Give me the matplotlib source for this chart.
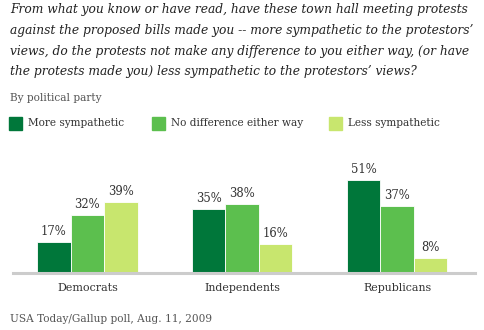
import matplotlib.pyplot as plt
import numpy as np

parties = ['Democrats', 'Independents', 'Republicans']
series_names = ['More sympathetic', 'No difference either way', 'Less sympathetic']
more_sympathetic = [17, 35, 51]
no_difference = [32, 38, 37]
less_sympathetic = [39, 16, 8]
colors = ['#00773a', '#5cbf4e', '#c8e66e']

question_lines = [
    "From what you know or have read, have these town hall meeting protests",
    "against the proposed bills made you -- more sympathetic to the protestors\u2019",
    "views, do the protests not make any difference to you either way, (or have",
    "the protests made you) less sympathetic to the protestors\u2019 views?",
]
subtitle = 'By political party'
source = 'USA Today/Gallup poll, Aug. 11, 2009'

W, H = 484, 330
fig = plt.figure(figsize=(W / 100, H / 100), dpi=100)
serif = 'DejaVu Serif'
text_color = '#333333'

# question text, one line at a time
for k, line in enumerate(question_lines):
    fig.text(10 / W, 1 - (10 + 20.6 * k) / H, line, ha='left', va='center',
             fontsize=8.85, style='italic', family=serif, color='#222222')
fig.text(10 / W, 1 - 98 / H, subtitle, ha='left', va='center', fontsize=7.6,
         family=serif, color='#555555')

# legend drawn by hand: squares + labels
legend_x = [9, 152, 329]
for xl, name, c in zip(legend_x, series_names, colors):
    fig.patches.append(plt.Rectangle((xl / W, 1 - 130 / H), 13 / W, 13 / H,
                                     transform=fig.transFigure, color=c))
    fig.text((xl + 19) / W, 1 - 123 / H, name, ha='left', va='center',
             fontsize=7.6, family=serif, color=text_color)

ax = fig.add_axes([13 / W, 57 / H, 462 / W, 109.2 / H])
x = np.arange(len(parties))
w = 0.216
for i, (vals, c) in enumerate(zip([more_sympathetic, no_difference, less_sympathetic], colors)):
    pos = x + (i - 1) * w
    ax.bar(pos, vals, width=w, color=c, edgecolor='white', linewidth=0.6)
    for px, v in zip(pos, vals):
        ax.text(px, v + 2.2, f'{v}%', ha='center', va='bottom', fontsize=8.4,
                family=serif, color=text_color)

ax.set_xlim(-0.48, 2.503)
ax.set_ylim(0, 60)
ax.axhline(0, color='#cccccc', linewidth=2.2, clip_on=False)
for s in ax.spines.values():
    s.set_visible(False)
ax.set_yticks([])
ax.set_xticks(x)
ax.set_xticklabels(parties, fontsize=7.9, family=serif, color=text_color)
ax.tick_params(axis='x', length=0, pad=7)

fig.text(10 / W, 1 - 319 / H, source, ha='left', va='center', fontsize=7.6,
         family=serif, color='#555555')

fig.savefig('out.png', dpi=100)
